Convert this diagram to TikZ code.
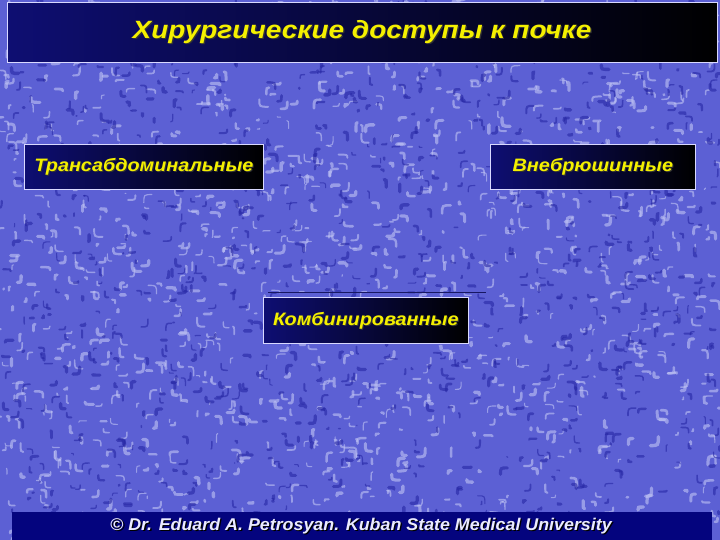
\documentclass[tikz,border=0pt]{standalone}
\usepackage{fontspec}
\setmainfont{Liberation Sans}
\usetikzlibrary{shadings}
\definecolor{bgblue}{HTML}{5C60D4}
\definecolor{bglight}{HTML}{C0C4F4}
\definecolor{bgdark}{HTML}{2626A4}
\definecolor{boxnavy}{HTML}{0E0E72}
\definecolor{footnavy}{HTML}{04047E}
\definecolor{txtyellow}{HTML}{F4F000}
\tikzset{
  panel/.style={draw=white!85!blue, line width=0.8pt, left color=boxnavy, right color=black, shading angle=90},
  ylabel/.style={text=txtyellow},
  shadowlabel/.style={text=black!80},
  bigfont/.style={font=\bfseries\itshape\fontsize{25}{28}\selectfont},
  midfont/.style={font=\bfseries\itshape\fontsize{18}{21}\selectfont},
  footfont/.style={font=\bfseries\itshape\fontsize{17}{20}\selectfont},
}
\newcommand{\wide}[2]{\scalebox{#1}[1]{#2}}
\begin{document}
\begin{tikzpicture}[x=1pt,y=-1pt]
\useasboundingbox (0,0) rectangle (720,540);
% textured background
\fill[bgblue] (0,0) rectangle (720,540);
\pgfmathsetseed{7}
\foreach \i in {1,...,1300}{
  \pgfmathsetmacro{\xa}{rnd*720}
  \pgfmathsetmacro{\ya}{rnd*540}
  \pgfmathsetmacro{\dx}{(rnd-0.5)*18}
  \pgfmathsetmacro{\dy}{(rnd-0.5)*18}
  \pgfmathsetmacro{\w}{1+rnd*2.5}
  \draw[bglight, line width=\w pt, line cap=round, opacity=0.6] (\xa,\ya) .. controls (\xa+\dx,\ya) .. (\xa+\dx,\ya+\dy);
}
\foreach \i in {1,...,1000}{
  \pgfmathsetmacro{\xa}{rnd*720}
  \pgfmathsetmacro{\ya}{rnd*540}
  \pgfmathsetmacro{\dx}{(rnd-0.5)*16}
  \pgfmathsetmacro{\dy}{(rnd-0.5)*16}
  \pgfmathsetmacro{\w}{1+rnd*2.5}
  \draw[bgdark, line width=\w pt, line cap=round, opacity=0.6] (\xa,\ya) .. controls (\xa,\ya+\dy) .. (\xa+\dx,\ya+\dy);
}
% title panel
\node[panel, minimum width=710pt, minimum height=60pt, inner sep=0pt, anchor=north west] (title) at (7,2) {};
\node[shadowlabel, bigfont] at (363.2,33.2) {\wide{1.12}{Хирургические доступы к почке}};
\node[ylabel, bigfont] (titletext) at (362,32) {\wide{1.12}{Хирургические доступы к почке}};
% boxes
\node[panel, minimum width=239pt, minimum height=45pt, inner sep=0pt, anchor=north west] (left) at (24,144) {};
\node[shadowlabel, midfont] at ([shift={(1,1)}]left.center) {\wide{1.1}{Трансабдоминальные}};
\node[ylabel, midfont] at (left.center) {\wide{1.1}{Трансабдоминальные}};
\node[panel, minimum width=205pt, minimum height=45pt, inner sep=0pt, anchor=north west] (right) at (490,144) {};
\node[shadowlabel, midfont] at ([shift={(1,1)}]right.center) {\wide{1.1}{Внебрюшинные}};
\node[ylabel, midfont] at (right.center) {\wide{1.1}{Внебрюшинные}};
\coordinate (la) at (268,292);
\coordinate (lb) at (486,292);
\draw[bgdark!60!black, line width=1pt] (la) -- (lb);
\node[panel, minimum width=205pt, minimum height=46pt, inner sep=0pt, anchor=north west] (mid) at (263,297) {};
\node[shadowlabel, midfont] at ([shift={(1,1)}]mid.center) {\wide{1.1}{Комбинированные}};
\node[ylabel, midfont] at (mid.center) {\wide{1.1}{Комбинированные}};
% footer
\fill[footnavy] (12,512) rectangle (712,540);
\node[footfont, text=black] at (362.3,527.6) {\wide{1.05}{© Dr. Eduard A. Petrosyan. Kuban State Medical University}};
\node[footfont, text=white!92!blue] (foot) at (361,526.5) {\wide{1.05}{© Dr. Eduard A. Petrosyan. Kuban State Medical University}};
\end{tikzpicture}
\end{document}
